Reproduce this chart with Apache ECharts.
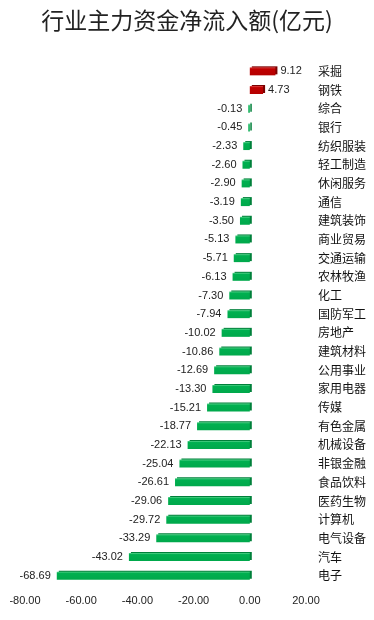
<!DOCTYPE html>
<html><head><meta charset="utf-8">
<script src="https://cdn.jsdelivr.net/npm/echarts@6/dist/echarts.min.js"></script>
<style>html,body{margin:0;padding:0;background:#fff}#c{width:374px;height:620px}</style>
</head><body><div id="c"></div>
<script>
const categories = ['采掘','钢铁','综合','银行','纺织服装','轻工制造','休闲服务','通信','建筑装饰','商业贸易','交通运输','农林牧渔','化工','国防军工','房地产','建筑材料','公用事业','家用电器','传媒','有色金属','机械设备','非银金融','食品饮料','医药生物','计算机','电气设备','汽车','电子'];
const values = [9.12,4.73,-0.13,-0.45,-2.33,-2.60,-2.90,-3.19,-3.50,-5.13,-5.71,-6.13,-7.30,-7.94,-10.02,-10.86,-12.69,-13.30,-15.21,-18.77,-22.13,-25.04,-26.61,-29.06,-29.72,-33.29,-43.02,-68.69];
const xTicks = {min:-80, max:20, interval:20};
const title = '行业主力资金净流入额(亿元)';

const green = new echarts.graphic.LinearGradient(0,0,0,1,[{offset:0,color:'#5ad58f'},{offset:0.2,color:'#00b050'},{offset:1,color:'#00a84b'}]);
const red = new echarts.graphic.LinearGradient(0,0,0,1,[{offset:0,color:'#e04848'},{offset:0.2,color:'#c00000'},{offset:1,color:'#b40000'}]);

const chart = echarts.init(document.getElementById('c'));
chart.setOption({
  animation:false,
  title:{text:title,left:'center',top:4,textStyle:{fontFamily:'Noto Sans CJK SC',fontSize:23,fontWeight:'normal',color:'#222'}},
  grid:{left:25,right:68,top:62,bottom:35,containLabel:false},
  xAxis:{type:'value',min:xTicks.min,max:xTicks.max,interval:xTicks.interval,
    axisLabel:{formatter:v=>v.toFixed(2),color:'#222',fontSize:11,fontFamily:'Liberation Sans',margin:10},
    splitLine:{show:false},axisLine:{show:false},axisTick:{show:false}},
  yAxis:{type:'category',data:categories,inverse:true,position:'right',
    axisLine:{show:false},axisTick:{show:false},
    axisLabel:{color:'#111',fontSize:12,fontFamily:'Noto Sans CJK SC',margin:12}},
  series:[{type:'bar',barWidth:8,barMinHeight:1.5,
    data:values.map(v=>({value:v,itemStyle:{color:v>=0?red:green,
        shadowColor:v>=0?'#7a0000':'#00803a',shadowOffsetX:2,shadowOffsetY:-1,shadowBlur:0},
      label:{show:true,position:v>=0?'right':'left',distance:v>=0?5:6,formatter:p=>p.value.toFixed(2),color:'#222',fontSize:11,fontFamily:'Liberation Sans'}}))
  }]
});
</script></body></html>
